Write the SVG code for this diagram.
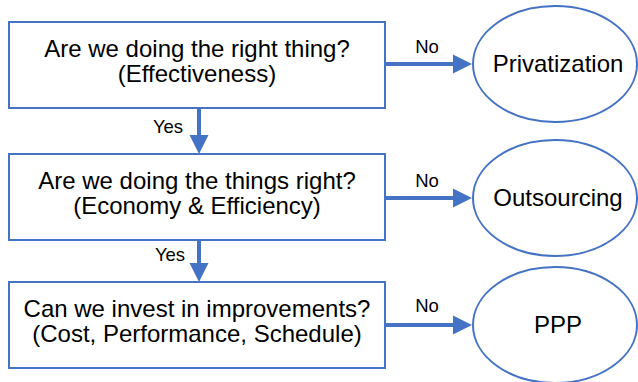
<svg xmlns="http://www.w3.org/2000/svg" width="638" height="382" viewBox="0 0 638 382">
  <style>
    .box { fill: #ffffff; stroke: #4472C4; stroke-width: 2; }
    .ell { fill: #ffffff; stroke: #4472C4; stroke-width: 2; }
    .conn { stroke: #4472C4; stroke-width: 4; fill: none; marker-end: url(#arrow); }
    .t { font-family: "Liberation Sans", Arial, sans-serif; font-size: 24px; fill: #000000; text-anchor: middle; }
    .lbl { font-family: "Liberation Sans", Arial, sans-serif; font-size: 18.5px; fill: #000000; text-anchor: middle; }
  </style>
  <defs>
    <marker id="arrow" markerUnits="userSpaceOnUse" markerWidth="19" markerHeight="19" refX="2" refY="9.5" orient="auto" overflow="visible">
      <path d="M0,0 L19,9.5 L0,19 Z" fill="#4472C4"/>
    </marker>
  </defs>
  <rect width="638" height="382" fill="#ffffff"/>

  <g id="connectors">
    <line class="conn" x1="385" y1="64" x2="455" y2="64"/>
    <line class="conn" x1="385" y1="198" x2="455" y2="198"/>
    <line class="conn" x1="385" y1="325" x2="455" y2="325"/>
    <line class="conn" x1="199" y1="108" x2="199" y2="137"/>
    <line class="conn" x1="199" y1="240" x2="199" y2="265"/>
    <text class="lbl" x="427" y="53">No</text>
    <text class="lbl" x="427" y="187">No</text>
    <text class="lbl" x="427" y="312">No</text>
    <text class="lbl" x="168" y="133">Yes</text>
    <text class="lbl" x="170" y="261">Yes</text>
  </g>

  <g id="q1">
    <rect class="box" x="9" y="22" width="376" height="86"/>
    <text class="t" x="197" y="57">Are we doing the right thing?</text>
    <text class="t" x="197" y="82">(Effectiveness)</text>
  </g>
  <g id="q2">
    <rect class="box" x="9" y="154" width="376" height="86"/>
    <text class="t" x="197" y="189">Are we doing the things right?</text>
    <text class="t" x="197" y="214">(Economy &amp; Efficiency)</text>
  </g>
  <g id="q3">
    <rect class="box" x="9" y="282" width="376" height="86"/>
    <text class="t" x="197" y="317">Can we invest in improvements?</text>
    <text class="t" x="197" y="342">(Cost, Performance, Schedule)</text>
  </g>

  <g id="privatization">
    <ellipse class="ell" cx="555" cy="64" rx="82" ry="58"/>
    <text class="t" x="558" y="72">Privatization</text>
  </g>
  <g id="outsourcing">
    <ellipse class="ell" cx="555" cy="198" rx="82" ry="58"/>
    <text class="t" x="558" y="206">Outsourcing</text>
  </g>
  <g id="ppp">
    <ellipse class="ell" cx="555" cy="325" rx="82" ry="58"/>
    <text class="t" x="558" y="333">PPP</text>
  </g>
</svg>
